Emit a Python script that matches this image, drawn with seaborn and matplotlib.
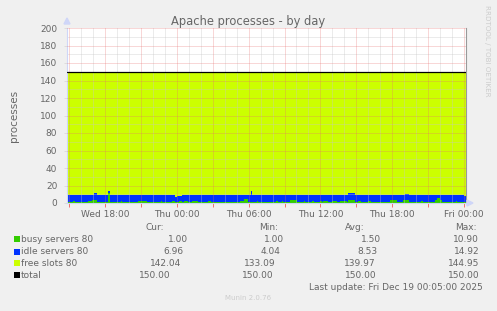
import numpy as np
import pandas as pd
import matplotlib
matplotlib.use("Agg")
import matplotlib.pyplot as plt
from matplotlib.patches import Rectangle
import seaborn as sns

# ---------------- data (hours relative to Wed 18:00) ----------------
step_start = [-3.17, -2.70, -2.54, -1.42, -1.05, -0.89, -0.69, 0.23, 0.42, 0.56,
              0.63, 1.34, 1.42, 2.73, 3.53, 4.68, 4.76, 5.60, 5.85, 6.00,
              6.15, 6.41, 6.60, 6.93, 7.24, 7.77, 8.60, 8.86, 11.28, 11.60,
              11.95, 12.17, 12.31, 12.70, 12.78, 14.29, 14.45, 14.79, 14.87, 15.46,
              16.04, 16.62, 16.71, 17.29, 17.46, 17.96, 18.13, 18.21, 18.63, 18.96,
              19.38, 19.63, 20.22, 20.30, 20.89, 21.14, 21.39, 21.97, 22.22, 23.81,
              24.39, 24.90, 25.10, 25.40, 26.40, 26.57, 27.57, 27.75, 28.00, 28.15,
              29.32, 29.41, 29.99]
busy = [1.0, 2.4, 1.0, 2.5, 3.8, 4.0, 1.0, 10.9, 1.0, 2.0,
        1.0, 1.8, 1.0, 2.6, 1.0, 1.8, 1.0, 1.8, 1.0, 1.0,
        2.2, 1.0, 2.4, 1.0, 2.7, 1.0, 1.8, 1.0, 2.8, 4.2,
        1.0, 1.5, 1.0, 1.8, 1.0, 2.0, 1.0, 2.0, 1.0, 3.8,
        1.0, 1.8, 1.0, 2.0, 1.0, 1.8, 1.0, 2.2, 1.0, 1.8,
        1.0, 2.5, 1.0, 3.0, 1.0, 2.0, 1.0, 2.0, 1.0, 3.3,
        1.0, 3.6, 3.6, 1.0, 1.8, 1.0, 3.5, 6.0, 3.5, 1.0,
        1.8, 1.0, 1.0]
idle = [8.4, 7.0, 8.4, 6.9, 5.6, 7.0, 8.4, 3.0, 8.4, 7.4,
        8.4, 7.6, 8.4, 6.8, 8.4, 7.6, 8.4, 7.6, 6.2, 6.9,
        5.6, 7.8, 7.0, 8.4, 6.7, 8.4, 7.6, 8.4, 6.6, 5.2,
        8.4, 12.2, 8.4, 7.6, 8.4, 7.4, 8.4, 7.4, 8.4, 5.6,
        8.4, 7.6, 8.4, 7.4, 8.4, 7.6, 8.4, 7.2, 8.4, 7.6,
        8.4, 6.9, 8.4, 8.0, 8.4, 7.4, 8.4, 7.4, 8.4, 6.1,
        8.4, 5.8, 7.0, 8.4, 7.6, 8.4, 5.9, 3.4, 5.9, 8.4,
        7.6, 8.4, 6.96]
total_value = 150.0
x_end = 30.16

tick_hours = [0, 6, 12, 18, 24, 30]
tick_labels = ["Wed 18:00", "Thu 00:00", "Thu 06:00", "Thu 12:00", "Thu 18:00", "Fri 00:00"]

legend_names = ["busy servers 80", "idle servers 80", "free slots 80", "total"]
legend_colors = ["#33CC00", "#0033FF", "#CCFF00", "#000000"]
cur_vals = [1.00, 6.96, 142.04, 150.00]
min_vals = [1.00, 4.04, 133.09, 150.00]
avg_vals = [1.50, 8.53, 139.97, 150.00]
max_vals = [10.90, 14.92, 144.95, 150.00]

# ---------------- figure ----------------
sns.set_theme(style="white")
plt.rcParams["font.family"] = ["DejaVu Sans"]
FONT = "#666666"
W, H = 497, 311
fig = plt.figure(figsize=(W / 100, H / 100), dpi=100, facecolor="#F0F0F0")


def fx(x):
    return x / W


def fy(y):
    return 1 - y / H


ax = fig.add_axes([67 / W, 1 - 203 / H, 399 / W, 175 / H])
ax.set_facecolor("white")

t = np.array(step_start + [x_end])
b = np.array(busy + [busy[-1]])
i = np.array(idle + [idle[-1]])
bi = b + i
tot = np.full_like(t, total_value)

df = pd.DataFrame({"t": t, "busy": b, "busyidle": bi, "total": tot})

ax.fill_between(t, 0, b, step="post", color="#33CC00", lw=0, zorder=1)
ax.fill_between(t, b, bi, step="post", color="#0033FF", lw=0, zorder=1)
ax.fill_between(t, bi, tot, step="post", color="#CCFF00", lw=0, zorder=1)
sns.lineplot(data=df, x="t", y="total", ax=ax, color="black", lw=0.9,
             drawstyle="steps-post", zorder=4)

ax.set_xlim(step_start[0], x_end)
ax.set_ylim(0, 200)

# grid (1px dotted)
DOT = (0, (1, 1))
for h in np.arange(-3, 31, 1):
    if h % 3 != 0:
        ax.axvline(h, color="#C8C8C8", lw=0.72, ls=DOT, alpha=0.7, zorder=2)
for v in range(10, 200, 20):
    ax.axhline(v, color="#C8C8C8", lw=0.72, ls=DOT, alpha=0.7, zorder=2)
for h in np.arange(-3, 31, 3):
    ax.axvline(h, color="#E87070", lw=0.72, ls=DOT, alpha=0.55, zorder=3)
for v in range(20, 201, 20):
    ax.axhline(v, color="#E87070", lw=0.72, ls=DOT, alpha=0.55, zorder=3)

major3 = list(np.arange(-3, 31, 3))
ax.set_xticks(major3)
ax.set_xticklabels([tick_labels[tick_hours.index(h)] if h in tick_hours else "" for h in major3])
ax.set_yticks(range(0, 201, 20))
ax.tick_params(axis="x", colors="#F07070", labelcolor=FONT, labelsize=6.5,
               length=3, width=0.7, pad=2, direction="out", bottom=True)
ax.tick_params(axis="y", colors="#DDDDDD", labelcolor=FONT, labelsize=6.5,
               length=2, width=0.7, pad=5, direction="out", left=True)
ax.set_xlabel("")
ax.set_ylabel("processes", color=FONT, fontsize=7.5, labelpad=15)

ax.spines["top"].set_visible(False)
ax.spines["left"].set_color("#CFD6F8")
ax.spines["bottom"].set_color("#CFD6F8")
ax.spines["right"].set_color("#999999")
for s in ["left", "bottom", "right"]:
    ax.spines[s].set_linewidth(0.8)

# arrows
fig.patches.append(plt.Polygon([[fx(64), fy(24)], [fx(70), fy(24)], [fx(67), fy(18)]],
                               closed=True, color="#CFD6F8", transform=fig.transFigure))
fig.patches.append(plt.Polygon([[fx(467), fy(200)], [fx(467), fy(206)], [fx(473), fy(203)]],
                               closed=True, color="#CFD6F8", transform=fig.transFigure))

# title
fig.text(fx(248), fy(21), "Apache processes - by day", ha="center", va="center",
         color=FONT, fontsize=8.3)
fig.text(fx(487), fy(51), "RRDTOOL / TOBI OETIKER", rotation=270, ha="center",
         va="center", color="#CCCCCC", fontsize=5.1)

# legend
rows_y = [239.3, 251.7, 263.3, 275.3]
hdr_y = 227.3
fs = 6.5
for txt, xe in zip(["Cur:", "Min:", "Avg:", "Max:"], [164, 278, 365, 476.7]):
    fig.text(fx(xe), fy(hdr_y), txt, ha="right", va="center", color=FONT, fontsize=fs)

cur_end = [188, 183.3, 181, 171]
min_end = [284.3, 280.7, 276, 274]
avg_end = [380.7, 378, 376, 376.7]
max_end = [479.3, 479.3, 479.3, 479.3]
for k, name in enumerate(legend_names):
    y = rows_y[k]
    fig.patches.append(Rectangle((fx(14), fy(y + 3)), 6 / W, 6 / H,
                                 transform=fig.transFigure, facecolor=legend_colors[k],
                                 edgecolor="none"))
    fig.text(fx(20.7), fy(y), name, ha="left", va="center", color=FONT, fontsize=fs)
    for vals, ends in ((cur_vals, cur_end), (min_vals, min_end),
                       (avg_vals, avg_end), (max_vals, max_end)):
        fig.text(fx(ends[k]), fy(y), f"{vals[k]:.2f}", ha="right", va="center",
                 color=FONT, fontsize=fs)

fig.text(fx(482.3), fy(287.3), "Last update: Fri Dec 19 00:05:00 2025", ha="right",
         va="center", color=FONT, fontsize=fs)
fig.text(fx(248), fy(298.3), "Munin 2.0.76", ha="center", va="center",
         color="#CCCCCC", fontsize=5.0)

fig.savefig("out.png", dpi=100, facecolor=fig.get_facecolor())
